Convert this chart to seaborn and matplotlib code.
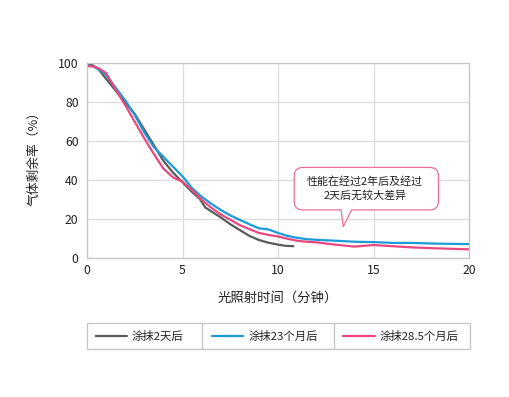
import matplotlib
matplotlib.use("Agg")
import matplotlib.pyplot as plt
import seaborn as sns
import pandas as pd
from matplotlib.patches import FancyBboxPatch, Polygon, Rectangle
from matplotlib.lines import Line2D

# ---- data ----
series_names = ["涂抹2天后", "涂抹23个月后", "涂抹28.5个月后"]
series_colors = ["#5a5a5a", "#1b9bd7", "#e8487f"]

gray_x = [0, 0.3, 0.6, 1, 1.5, 2, 2.5, 3, 3.5, 4, 4.5, 5, 5.5, 5.9, 6.2, 6.6, 7, 7.5, 8, 8.5, 9, 9.5, 10, 10.4, 10.8]
gray_y = [99.5, 99, 97, 92, 86, 80, 74, 66, 58, 50, 44, 39, 34, 30.5, 26, 23.5, 21, 17.5, 14.5, 11.5, 9.4, 8, 7, 6.4, 6.2]

blue_x = [0, 0.3, 0.6, 1, 1.5, 2, 2.5, 3, 3.5, 4, 4.5, 5, 5.5, 6, 6.5, 7, 7.5, 8, 8.5, 9, 9.5, 10, 10.5, 11, 11.5, 12, 13, 14, 15, 16, 17, 18, 19, 20]
blue_y = [99, 98.5, 97, 94, 87.5, 81, 73.5, 64.5, 57, 52, 47, 42, 36, 31.6, 28, 24.8, 22, 19.7, 17.5, 15.4, 14.8, 13, 11.5, 10.5, 9.8, 9.5, 9, 8.5, 8.3, 7.9, 7.9, 7.6, 7.4, 7.3]

pink_x = [0, 0.3, 0.6, 1, 1.5, 2, 2.5, 3, 3.5, 4, 4.5, 5, 5.5, 6, 6.5, 7, 7.5, 8, 8.5, 9, 9.5, 10, 10.5, 11, 11.5, 12, 13, 14, 15, 16, 17, 18, 19, 20]
pink_y = [98.5, 98.5, 97.5, 95, 86.5, 78.6, 70, 61.5, 53.5, 46, 41.5, 39.3, 35, 30, 26, 22.5, 19.8, 17, 15, 13, 12, 11.2, 10, 9, 8.5, 8.2, 7, 6, 6.8, 6.2, 5.6, 5.2, 4.9, 4.6]

x_ticks = [0, 5, 10, 15, 20]
y_ticks = [0, 20, 40, 60, 80, 100]
x_label = "光照射时间（分钟）"
y_label = "气体剩余率（%）"
note_text = "性能在经过2年后及经过\n2天后无较大差异"

# ---- build frame ----
frames = []
for name, xs, ys in zip(series_names, [gray_x, blue_x, pink_x], [gray_y, blue_y, pink_y]):
    frames.append(pd.DataFrame({"t": xs, "v": ys, "s": name}))
df = pd.concat(frames, ignore_index=True)

sns.set_theme(style="white")
plt.rcParams["font.family"] = ["Noto Sans CJK SC", "DejaVu Sans"]
text_color = "#222222"

fig = plt.figure(figsize=(5.10, 3.97), dpi=100)
ax = fig.add_axes([87/510, 1-258.3/397, (469-87)/510, (258.3-63.3)/397])

sns.lineplot(data=df, x="t", y="v", hue="s", hue_order=series_names,
             palette=series_colors, linewidth=1.6, ax=ax, legend=False,
             estimator=None, sort=False)

ax.set_xlim(0, 20)
ax.set_ylim(0, 100)
ax.set_xticks(x_ticks)
ax.set_yticks(y_ticks)
ax.tick_params(axis="both", length=0, labelsize=8.8, colors=text_color)
ax.tick_params(axis="y", pad=6)
ax.tick_params(axis="x", pad=4)
ax.grid(True, color="#dcdcdc", linewidth=0.9)
ax.set_axisbelow(True)
for sp in ax.spines.values():
    sp.set_color("#c4c4c4")
    sp.set_linewidth(0.9)
ax.set_xlabel("")
ax.set_ylabel("")

fig.text(278/510, 1-298/397, x_label, ha="center", va="center", fontsize=9.6, color=text_color)
fig.text(34/510, 1-156/397, y_label, ha="center", va="center", rotation=90, fontsize=9.2, color=text_color)

# ---- callout ----
edge = "#ec6f98"
box = FancyBboxPatch((10.85, 24.8), 7.55, 21.8,
                     boxstyle="round,pad=0,rounding_size=0.45",
                     facecolor="white", edgecolor=edge, linewidth=0.9, zorder=5)
box.set_mutation_aspect(19.1/1.95)
ax.add_patch(box)
tail = Polygon([(13.3, 25.3), (13.42, 16.2), (13.85, 25.3)], closed=True,
               facecolor="white", edgecolor="none", zorder=6)
ax.add_patch(tail)
ax.plot([13.3, 13.42, 13.85], [24.8, 16.2, 24.8], color=edge, linewidth=0.9, zorder=7,
        solid_joinstyle="miter")
ax.text(14.55, 35.7, note_text, ha="center", va="center", fontsize=7.9,
        color=text_color, linespacing=1.45, zorder=8)

# ---- legend table ----
lax = fig.add_axes([0, 0, 1, 1], facecolor="none")
lax.set_xlim(0, 510)
lax.set_ylim(397, 0)
lax.axis("off")
lax.add_patch(Rectangle((87.3, 322.7), 470-87.3, 349.3-322.7, fill=False,
                        edgecolor="#c4c4c4", linewidth=0.9))
for xd in [202.3, 334.3]:
    lax.plot([xd, xd], [322.7, 349.3], color="#c4c4c4", linewidth=0.9)
cells = [(96, 126.7, 131.7), (211.7, 243.3, 248.3), (343, 375, 380)]
for (x0, x1, xt), name, c in zip(cells, series_names, series_colors):
    lax.add_line(Line2D([x0, x1], [336, 336], color=c, linewidth=1.6))
    lax.text(xt, 336, name, ha="left", va="center", fontsize=8.2, color=text_color)

fig.savefig("out.png", dpi=100)
